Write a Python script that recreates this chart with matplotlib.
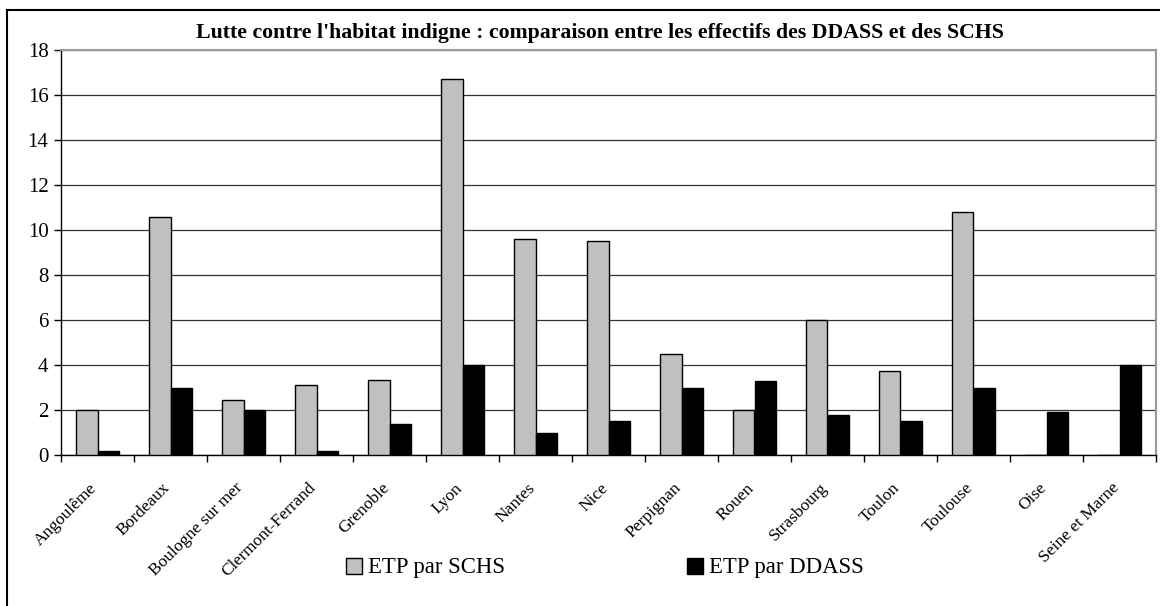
import matplotlib
matplotlib.use("Agg")
import matplotlib.pyplot as plt
from matplotlib.lines import Line2D
import numpy as np

categories = ["Angoulême", "Bordeaux", "Boulogne sur mer", "Clermont-Ferrand",
              "Grenoble", "Lyon", "Nantes", "Nice", "Perpignan", "Rouen",
              "Strasbourg", "Toulon", "Toulouse", "Oise", "Seine et Marne"]
schs = [2.0, 10.6, 2.45, 3.1, 3.35, 16.7, 9.6, 9.5, 4.5, 2.0, 6.0, 3.75, 10.8, 0, 0]
ddass = [0.2, 3.0, 2.0, 0.2, 1.4, 4.0, 1.0, 1.5, 3.0, 3.3, 1.8, 1.5, 3.0, 1.9, 4.0]
yticks = [0, 2, 4, 6, 8, 10, 12, 14, 16, 18]
title = "Lutte contre l'habitat indigne : comparaison entre les effectifs des DDASS et des SCHS"
series_names = ["ETP par SCHS", "ETP par DDASS"]

plt.rcParams['font.family'] = ['Liberation Serif', 'DejaVu Serif']

W, H = 1160, 606
fig = plt.figure(figsize=(W / 100, H / 100), dpi=100)
ax = fig.add_axes([61 / W, 1 - 455 / H, (1156 - 61) / W, (455 - 50) / H])

x = np.arange(len(categories))
bw = 0.295
ax.bar(x - bw / 2, schs, width=bw, color="#c0c0c0", edgecolor="black", linewidth=1.0, zorder=3,
       label=series_names[0])
ax.bar(x + bw / 2, ddass, width=bw, color="black", edgecolor="black", linewidth=1.0, zorder=3,
       label=series_names[1])

ax.set_xlim(-0.5, len(categories) - 0.5)
ax.set_ylim(0, 18)
ax.set_yticks(yticks)
ax.set_yticklabels([str(t) for t in yticks], fontsize=15)
ax.yaxis.grid(True, color="#333333", linewidth=0.9, zorder=0)
ax.set_axisbelow(True)

ax.set_xticks(np.arange(len(categories) + 1) - 0.5, minor=False)
ax.set_xticklabels([])
ax.tick_params(axis='x', direction='out', length=5, width=1)
ax.tick_params(axis='y', direction='out', length=5, width=1, pad=4)
for i, c in enumerate(categories):
    ax.annotate(c, xy=(i, 0), xycoords=('data', 'axes fraction'),
                xytext=(-6, -18), textcoords='offset points',
                rotation=45, ha='right', va='top', rotation_mode='anchor', fontsize=12.5)

for s in ['left', 'bottom']:
    ax.spines[s].set_color('black')
    ax.spines[s].set_linewidth(1.0)
for s in ['top', 'right']:
    ax.spines[s].set_color('#999999')
    ax.spines[s].set_linewidth(1.5)

fig.text(600 / W, 1 - 33 / H, title, ha='center', va='center', fontsize=15.7, fontweight='bold')

leg = fig.legend(loc='center', bbox_to_anchor=(605 / W, 1 - 568 / H), ncol=2, frameon=False,
                 fontsize=16.4, handlelength=0.7, handleheight=0.7, handletextpad=0.25,
                 columnspacing=8.0, borderpad=0.1)

fig.add_artist(Line2D([7 / W, 7 / W], [0, 1 - 10 / H], color='black', linewidth=1.5))
fig.add_artist(Line2D([7 / W, 1], [1 - 10 / H, 1 - 10 / H], color='black', linewidth=1.5))

fig.savefig("out.png", dpi=100)
